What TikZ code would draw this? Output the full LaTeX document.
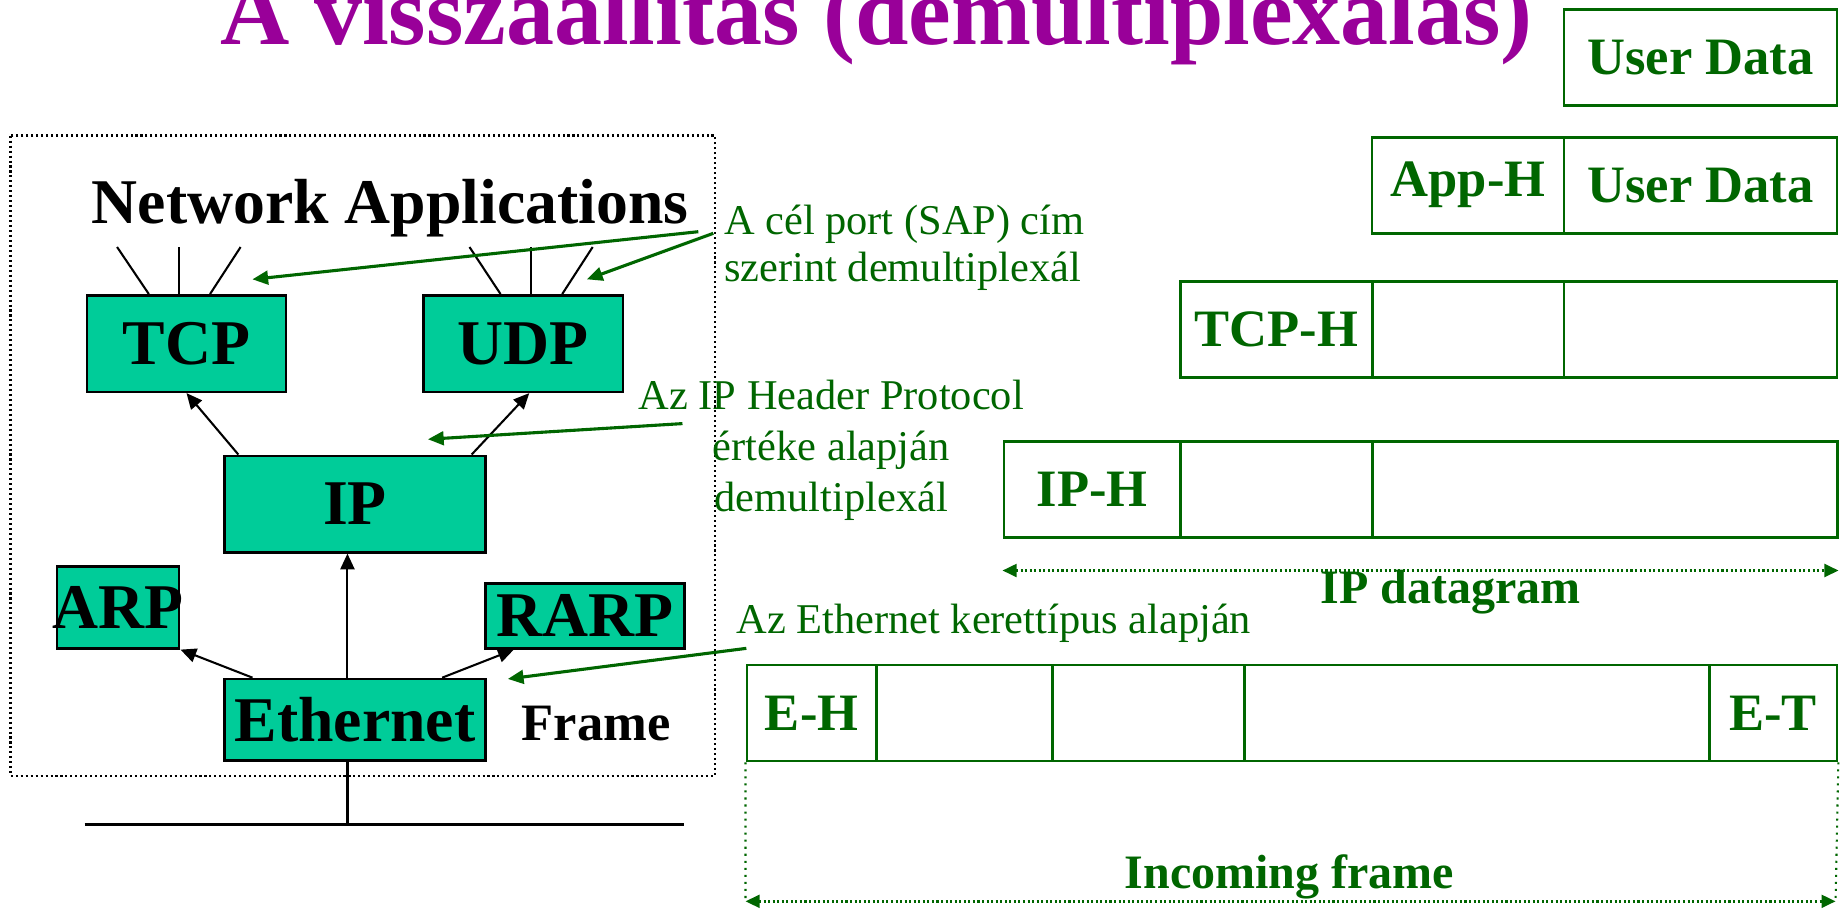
\documentclass[tikz,border=0pt]{standalone}
\usepackage{fontspec}
\setmainfont{Liberation Serif}
\usetikzlibrary{arrows.meta}
\definecolor{lila}{HTML}{990099}
\definecolor{zold}{HTML}{006600}
\definecolor{turkiz}{HTML}{00CC99}
\tikzset{
  proto/.style={draw,fill=turkiz,line width=0.6pt,inner sep=0pt,font=\fontsize{15.4}{18}\selectfont\bfseries},
  cell/.style={draw=zold,line width=0.65pt,anchor=north west,minimum height=0.815cm,inner sep=0pt,text=zold,font=\fontsize{12.7}{15}\selectfont\bfseries},
  note/.style={text=zold,inner sep=0pt,font=\fontsize{10.25}{12.3}\selectfont},
  feed/.style={line width=0.5pt,-{Triangle[length=3.8pt,width=3.4pt]}},
  pointer/.style={zold,line width=0.75pt,-{Triangle[length=3.8pt,width=3.3pt]}},
  lenarrow/.style={zold,line width=0.6pt,dash pattern=on 0.5pt off 0.6pt,{Triangle[length=3.4pt,width=3.1pt]}-{Triangle[length=3.4pt,width=3.1pt]}}
}
\begin{document}
\begin{tikzpicture}[x=0.01cm,y=-0.01cm]
    \useasboundingbox (0,0) rectangle (1568,772);
    \node[anchor=base west,inner sep=0pt,text=lila,font=\fontsize{23.2}{28}\selectfont\bfseries] (title) at (187,38) {A visszaállítás (demultiplexálás)};
    % host side
    \draw[line width=0.6pt,dash pattern=on 0.5pt off 0.7pt] (9,115.3) rectangle (607.5,659.5);
    \node[anchor=base west,inner sep=0pt,font=\fontsize{15.4}{18}\selectfont\bfseries] (apps) at (77.3,189.8) {Network Applications};
    \node[proto,minimum width=1.69cm,minimum height=0.82cm] (tcp) at (158.5,292) {TCP};
    \node[proto,minimum width=1.695cm,minimum height=0.82cm] (udp) at (444.8,292) {UDP};
    \node[proto,minimum width=2.22cm,minimum height=0.82cm] (ip) at (301.7,428.4) {IP};
    \node[proto,minimum width=1.04cm,minimum height=0.694cm] (arp) at (100.3,516.3) {\makebox[0pt]{ARP}};
    \node[proto,minimum width=1.688cm,minimum height=0.553cm] (rarp) at (497.1,523.4) {RARP};
    \node[proto,minimum width=2.22cm,minimum height=0.694cm] (eth) at (301.7,611.7) {Ethernet};
    \node[anchor=base west,inner sep=0pt,font=\fontsize{12.7}{15}\selectfont\bfseries] (frame) at (442.8,629.7) {Frame};
    \foreach \a/\b in {-32/-59,-6.5/-6.5,20/46}
        \draw[line width=0.5pt] ([xshift=\a*0.01cm]tcp.north) -- ++(\b-\a,-40);
    \foreach \a/\b in {-19.4/-45.8,6.6/6.6,33/58.9}
        \draw[line width=0.5pt] ([xshift=\a*0.01cm]udp.north) -- ++(\b-\a,-40);
    \draw[feed] ([xshift=0.13cm]ip.north west) -- (tcp.south);
    \draw[feed] ([xshift=-0.13cm]ip.north east) -- ([xshift=0.05cm]udp.south);
    \draw[feed] ([xshift=-0.064cm]eth.north) -- ([xshift=-0.064cm]ip.south);
    \draw[feed] ([xshift=0.25cm]eth.north west) -- (arp.south east);
    \draw[feed] ([xshift=-0.38cm]eth.north east) -- ([xshift=0.25cm]rarp.south west);
    \coordinate (busl) at (72,700.5);
    \coordinate (busr) at (581.5,700.5);
    \draw[line width=0.7pt] (busl) -- (busr);
    \draw[line width=0.6pt] ([xshift=-0.064cm]eth.south) -- ([xshift=-0.064cm]eth.south |- busl);
    % notes
    \node[note,anchor=base west,align=left,font=\fontsize{10.25}{11.47}\selectfont] (sap) at (614.7,239.4) {A cél port (SAP) cím\\szerint demultiplexál};
    \node[note,anchor=base,align=center] (hdr) at (706.5,434.8) {Az IP Header Protocol\\értéke alapján\\demultiplexál};
    \node[note,anchor=base west] (ethn) at (625.2,538.2) {Az Ethernet kerettípus alapján};
    \coordinate (sapa) at (593.5,196.9);
    \coordinate (sapb) at (606.2,198.3);
    \coordinate (tcpin) at (214.5,237.4);
    \coordinate (udpin) at (498.8,237.4);
    \coordinate (hdra) at (580,360);
    \coordinate (ipin) at (363.7,373.3);
    \coordinate (etha) at (634.3,551);
    \coordinate (ethin) at (431.6,577);
    \draw[pointer] (sapa) -- (tcpin);
    \draw[pointer] (sapb) -- (udpin);
    \draw[pointer] (hdra) -- (ipin);
    \draw[pointer] (etha) -- (ethin);
    % encapsulation
    \node[cell,minimum width=2.32cm] (ud1) at (1328,7) {User Data};
    \node[cell,minimum width=1.63cm] (apph) at (1165,115.5) {App-H};
    \node[cell,minimum width=2.32cm] (ud2) at (1328,115.5) {User Data};
    \node[cell,minimum width=1.63cm] (tcph) at (1002,238) {TCP-H};
    \node[cell,minimum width=1.63cm] (tcpa) at (1165,238) {};
    \node[cell,minimum width=2.32cm] (tcpb) at (1328,238) {};
    \node[cell,minimum width=1.50cm] (iph) at (852,374) {IP-H};
    \node[cell,minimum width=1.63cm] (ipa) at (1002,374) {};
    \node[cell,minimum width=3.95cm] (ipb) at (1165,374) {};
    \node[cell,minimum width=1.101cm] (eh) at (633.6,564) {E-H};
    \node[cell,minimum width=1.499cm] (ea) at (743.7,564) {};
    \node[cell,minimum width=1.632cm] (eb) at (893.6,564) {};
    \node[cell,minimum width=3.948cm] (ec) at (1056.8,564) {};
    \node[cell,minimum width=1.084cm] (et) at (1451.6,564) {E-T};
    \draw[lenarrow] ([yshift=-0.27cm]iph.south west) -- ([yshift=-0.27cm]ipb.south east);
    \node[anchor=base,inner sep=0pt,text=zold,font=\fontsize{11.6}{14}\selectfont\bfseries] (ipdg) at (1233,512.7) {IP datagram};
    \coordinate (fl) at (633.6,766);
    \coordinate (fr) at (1560,766);
    \draw[zold,line width=0.5pt,dash pattern=on 0.5pt off 1.2pt] (eh.south west) -- (fl) (et.south east) -- (fr);
    \draw[lenarrow] (fl) -- (fr);
    \node[anchor=base,inner sep=0pt,text=zold,font=\fontsize{11.6}{14}\selectfont\bfseries] (inframe) at (1096,755) {Incoming frame};
\end{tikzpicture}
\end{document}
